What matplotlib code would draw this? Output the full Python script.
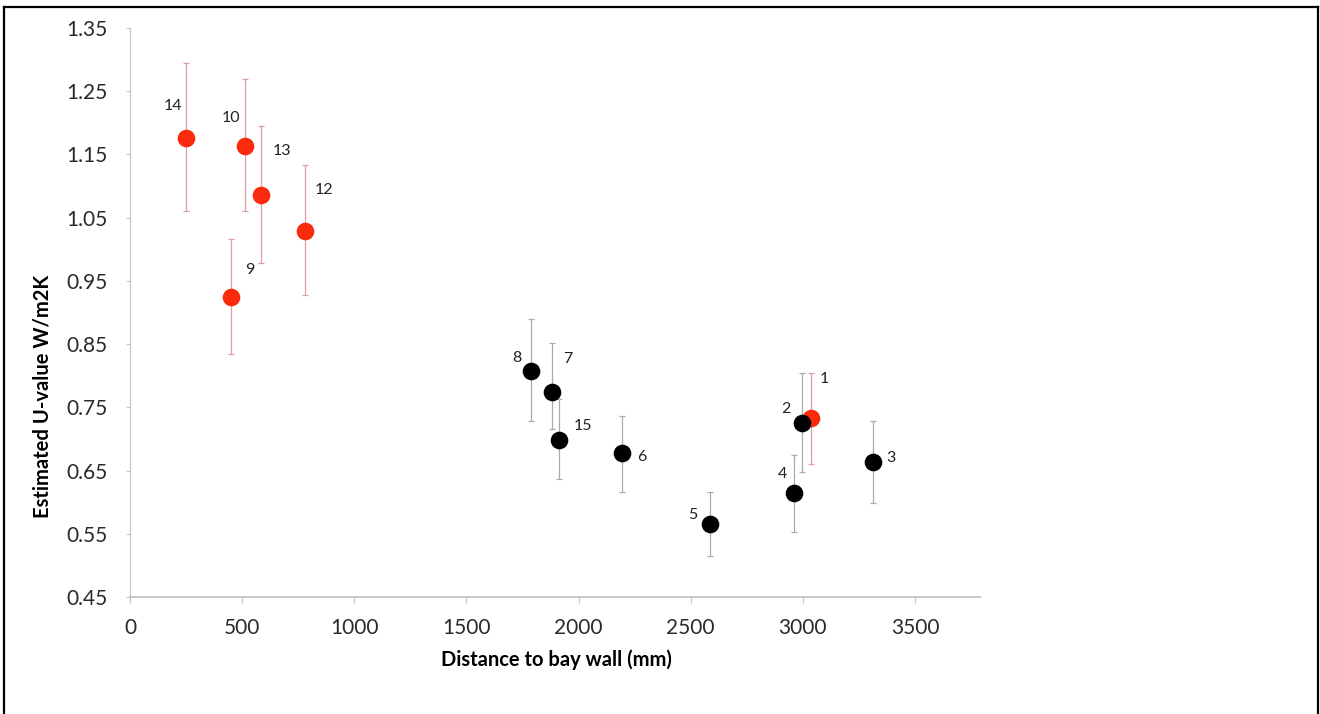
import matplotlib
matplotlib.use("Agg")
import matplotlib.pyplot as plt
from matplotlib.lines import Line2D
import numpy as np

plt.rcParams['font.family'] = ['Lato', 'DejaVu Sans']

# ---- data ----
red_labels = ["14", "10", "13", "12", "9", "1"]
red_x = [250, 513, 584, 780, 450, 3036]
red_y = [1.176, 1.164, 1.086, 1.029, 0.924, 0.733]
red_hi = [1.295, 1.269, 1.195, 1.134, 1.017, 0.805]
red_lo = [1.061, 1.061, 0.979, 0.928, 0.834, 0.660]

blk_labels = ["8", "7", "15", "6", "5", "4", "2", "3"]
blk_x = [1788, 1881, 1913, 2193, 2586, 2960, 2996, 3313]
blk_y = [0.808, 0.774, 0.698, 0.677, 0.565, 0.614, 0.726, 0.663]
blk_hi = [0.890, 0.851, 0.763, 0.737, 0.616, 0.674, 0.805, 0.729]
blk_lo = [0.729, 0.715, 0.636, 0.616, 0.515, 0.553, 0.647, 0.598]

x_ticks = [0, 500, 1000, 1500, 2000, 2500, 3000, 3500]
y_ticks = [0.45, 0.55, 0.65, 0.75, 0.85, 0.95, 1.05, 1.15, 1.25, 1.35]

# label offsets (points)
offsets = {
    "14": (-9.4, 23), "10": (-10, 20), "13": (15, 31.7), "12": (13.7, 29.5),
    "9": (13.7, 19.4), "1": (10, 28), "8": (-10, 9.4), "7": (11.5, 23.8),
    "15": (17.3, 10), "6": (14.4, -2.2), "5": (-12.2, 6.5), "4": (-8, 13.7),
    "2": (-11.5, 9.4), "3": (13, 3),
}

fig = plt.figure(figsize=(13.2, 7.14), dpi=100)
W, H = 1320, 714
ax = fig.add_axes([130 / W, 1 - 597 / H, (980 - 130) / W, (597 - 28) / H])

red_col = '#fa2a0c'
red_err = '#dca0a0'
blk_err = '#ababab'

ry = np.array(red_y)
ax.errorbar(red_x, red_y, yerr=[ry - np.array(red_lo), np.array(red_hi) - ry],
            fmt='none', ecolor=red_err, elinewidth=0.9, capsize=2.5, capthick=0.9, zorder=2)
ax.plot(red_x, red_y, 'o', color=red_col, markersize=12.7, markeredgewidth=0, zorder=3)

by = np.array(blk_y)
ax.errorbar(blk_x, blk_y, yerr=[by - np.array(blk_lo), np.array(blk_hi) - by],
            fmt='none', ecolor=blk_err, elinewidth=0.9, capsize=2.5, capthick=0.9, zorder=4)
ax.plot(blk_x, blk_y, 'o', color='black', markersize=12.7, markeredgewidth=0, zorder=5)

for labs, xs, ys in ((red_labels, red_x, red_y), (blk_labels, blk_x, blk_y)):
    for l, xv, yv in zip(labs, xs, ys):
        ax.annotate(l, (xv, yv), xytext=offsets[l], textcoords='offset points',
                    ha='center', va='center', fontsize=11.5, color='#222222', zorder=6)

ax.set_xlim(0, 3790)
ax.set_ylim(0.45, 1.35)
ax.set_xticks(x_ticks)
ax.set_xticklabels([str(t) for t in x_ticks])
ax.set_yticks(y_ticks)
ax.set_yticklabels([f"{t:.2f}" for t in y_ticks])

for s in ('top', 'right'):
    ax.spines[s].set_visible(False)
ax.spines['left'].set_color('#c8c8c8')
ax.spines['left'].set_linewidth(0.9)
ax.spines['bottom'].set_color('#c8c8c8')
ax.spines['bottom'].set_linewidth(1.4)

ax.tick_params(axis='x', direction='out', length=4, width=0.9, color='#c8c8c8',
               pad=11, labelsize=15, labelcolor='#2a2a2a')
ax.tick_params(axis='y', direction='out', length=3, width=0.9, color='#c8c8c8',
               pad=13, labelsize=15, labelcolor='#2a2a2a')

fig.text(556 / W, 1 - 660 / H, "Distance to bay wall (mm)", ha='center', va='center',
         fontsize=14.5, fontweight='bold', color='black')
fig.text(43 / W, 1 - 396 / H, "Estimated U-value W/m2K", ha='center', va='center',
         rotation=90, fontsize=14.5, fontweight='bold', color='black')

# figure border (top, left, right)
lw = 1.6
fig.add_artist(Line2D([4 / W, 1318 / W], [1 - 7 / H, 1 - 7 / H], color='black', lw=lw,
                      transform=fig.transFigure, solid_capstyle='projecting'))
fig.add_artist(Line2D([4 / W, 4 / W], [0, 1 - 7 / H], color='black', lw=lw,
                      transform=fig.transFigure))
fig.add_artist(Line2D([1318 / W, 1318 / W], [0, 1 - 7 / H], color='black', lw=lw,
                      transform=fig.transFigure))

fig.savefig("out.png", dpi=100, facecolor='white')
